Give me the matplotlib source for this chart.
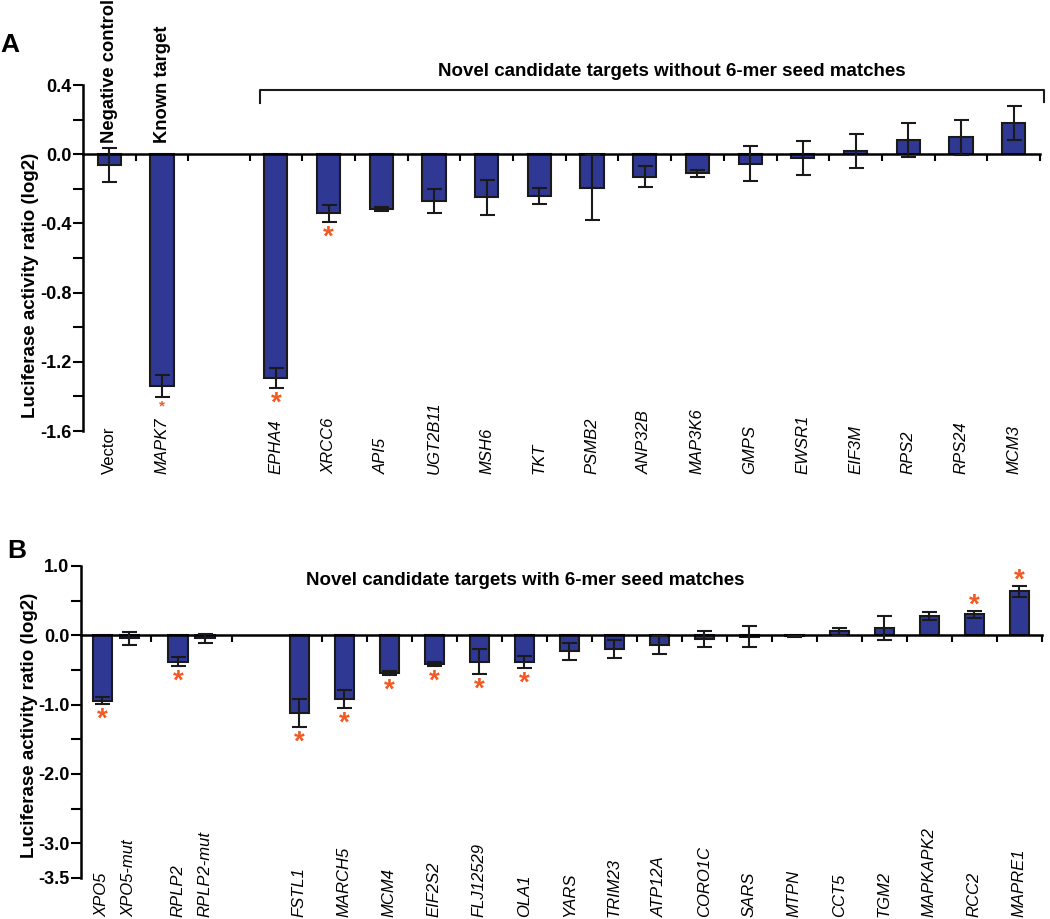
import numpy as np
import matplotlib.pyplot as plt
from matplotlib.ticker import FixedLocator

plt.rcParams['font.family'] = ['Liberation Sans', 'DejaVu Sans']
plt.rcParams['axes.unicode_minus'] = False

# ---- panel A: targets without 6-mer seed matches ----
a_genes = ["Vector", "MAPK7", "EPHA4", "XRCC6", "API5", "UGT2B11", "MSH6", "TKT",
           "PSMB2", "ANP32B", "MAP3K6", "GMPS", "EWSR1", "EIF3M", "RPS2", "RPS24", "MCM3"]
a_values = [-0.063, -1.339, -1.291, -0.342, -0.319, -0.272, -0.249, -0.242,
            -0.193, -0.131, -0.111, -0.054, -0.023, 0.017, 0.081, 0.097, 0.180]
a_errors = [0.099, 0.063, 0.058, 0.050, 0.012, 0.070, 0.100, 0.045,
            0.190, 0.060, 0.020, 0.100, 0.100, 0.098, 0.100, 0.100, 0.100]
a_sig = ["MAPK7", "EPHA4", "XRCC6"]
a_small_star = ["MAPK7"]

# ---- panel B: targets with 6-mer seed matches ----
b_genes = ["XPO5", "XPO5-mut", "RPLP2", "RPLP2-mut", "FSTL1", "MARCH5", "MCM4", "EIF2S2",
           "FLJ12529", "OLA1", "YARS", "TRIM23", "ATP12A", "CORO1C", "SARS", "MTPN",
           "CCT5", "TGM2", "MAPKAPK2", "RCC2", "MAPRE1"]
b_values = [-0.94, -0.045, -0.38, -0.045, -1.12, -0.92, -0.54, -0.41,
            -0.38, -0.38, -0.23, -0.195, -0.14, -0.058, -0.02, -0.015,
            0.058, 0.107, 0.28, 0.306, 0.636]
b_errors = [0.045, 0.10, 0.065, 0.06, 0.20, 0.13, 0.025, 0.03,
            0.18, 0.085, 0.12, 0.125, 0.125, 0.115, 0.15, 0.01,
            0.05, 0.17, 0.06, 0.05, 0.08]
b_sig = ["XPO5", "RPLP2", "FSTL1", "MARCH5", "MCM4", "EIF2S2", "FLJ12529", "OLA1",
         "RCC2", "MAPRE1"]

BAR = "#2f3893"
EDGE = "#1a1a1a"
STAR = "#f15a24"
W, H = 1050, 919


def add_stars(ax, pos, vals, errs, names, sig, small=()):
    for x, v, e, n in zip(pos, vals, errs, names):
        if n not in sig:
            continue
        fs = 11 if n in small else 20
        if v < 0:
            ax.annotate("*", (x, v - e), xytext=(0, -2), textcoords="offset points",
                        ha="center", va="top", fontsize=fs, fontweight="bold",
                        color=STAR, annotation_clip=False)
        else:
            ax.annotate("*", (x, v + e), xytext=(0, -1.5), textcoords="offset points",
                        ha="center", va="baseline", fontsize=fs, fontweight="bold",
                        color=STAR, annotation_clip=False)


def style_axes(ax, boundaries, xmax, ylim, major, minor):
    ax.set_xlim(0, xmax)
    ax.set_ylim(*ylim)
    for s in ["top", "right"]:
        ax.spines[s].set_visible(False)
    ax.spines["bottom"].set_position(("data", 0))
    ax.spines["bottom"].set_linewidth(1.8)
    ax.spines["left"].set_linewidth(1.8)
    ax.set_xticks(boundaries)
    ax.tick_params(axis="x", direction="out", length=5, width=1.5, labelbottom=False)
    ax.yaxis.set_major_locator(FixedLocator(major))
    ax.yaxis.set_minor_locator(FixedLocator(minor))
    ax.set_yticklabels([f"{t:.1f}" for t in major], fontsize=13, fontweight="bold")
    ax.tick_params(axis="y", which="both", direction="out", length=7, width=1.5, pad=1)


def gene_labels(ax, pos, names, y):
    for x, n in zip(pos, names):
        ax.text(x, y, n, transform=ax.get_xaxis_transform(), rotation=90,
                ha="center", va="bottom", fontsize=12,
                style="normal" if n == "Vector" else "italic")


def draw_bars(ax, pos, vals, errs, width):
    ax.bar(pos, vals, width=width, color=BAR, edgecolor=EDGE, linewidth=1.5, zorder=2)
    ax.errorbar(pos, vals, yerr=errs, fmt="none", ecolor=EDGE, elinewidth=1.5,
                capsize=5.4, capthick=1.5, zorder=3)


fig = plt.figure(figsize=(W / 100, H / 100), dpi=100)

# ---------------- panel A ----------------
axA = fig.add_axes([83 / W, 1 - 431 / H, 957 / W, 346 / H])
gap_a = 1.16
n_ctrl = 2
slot_left = np.concatenate([np.arange(n_ctrl),
                            n_ctrl + gap_a + np.arange(len(a_genes) - n_ctrl)])
pos_a = slot_left + 0.5
xmax_a = slot_left[-1] + 1
bound_a = np.concatenate([[1, 2, 2 + gap_a], slot_left[n_ctrl:] + 1])
draw_bars(axA, pos_a, a_values, a_errors, 0.44)
style_axes(axA, bound_a, xmax_a, (-1.6, 0.4),
           [0.4, 0.0, -0.4, -0.8, -1.2, -1.6], [0.2, -0.2, -0.6, -1.0, -1.4])
add_stars(axA, pos_a, a_values, a_errors, a_genes, a_sig, a_small_star)
gene_labels(axA, pos_a, a_genes, -0.124)
axA.set_ylabel("Luciferase activity ratio (log2)", fontsize=13.5, fontweight="bold", va="center")
axA.yaxis.set_label_coords(-0.0545, 0.42)

axA.text(pos_a[0], 0.065, "Negative control", rotation=90, ha="center", va="bottom",
         fontsize=13.2, fontweight="bold", clip_on=False)
axA.text(pos_a[1], 0.065, "Known target", rotation=90, ha="center", va="bottom",
         fontsize=13.2, fontweight="bold", clip_on=False)
bx0 = pos_a[n_ctrl] - 0.3
bx1 = xmax_a + 0.08
axA.plot([bx0, bx0, bx1, bx1], [0.297, 0.373, 0.373, 0.30], color=EDGE, lw=1.5,
         clip_on=False)
axA.text(0.615, 1.0385, "Novel candidate targets without 6-mer seed matches",
         transform=axA.transAxes, ha="center", va="center", fontsize=13.5,
         fontweight="bold")

# ---------------- panel B ----------------
axB = fig.add_axes([80.7 / W, 1 - 878 / H, 961 / W, 312 / H])
pair_edges = np.array([0, 1.56, 3.36])
pair_centers = (pair_edges[:-1] + pair_edges[1:]) / 2
pos_pairs = np.ravel(np.column_stack([pair_centers - 0.3, pair_centers + 0.3]))
main_start = pair_edges[-1] + 1.0
n_main = len(b_genes) - len(pos_pairs)
pos_b = np.concatenate([pos_pairs, main_start + 0.5 + np.arange(n_main)])
xmax_b = main_start + n_main
bound_b = np.concatenate([pair_edges[1:], main_start + 1 + np.arange(n_main)])
draw_bars(axB, pos_b, b_values, b_errors, 0.43)
style_axes(axB, bound_b, xmax_b, (-3.5, 1.0),
           [1.0, 0.0, -1.0, -2.0, -3.0, -3.5], [0.5, -0.5, -1.5, -2.5])
add_stars(axB, pos_b, b_values, b_errors, b_genes, b_sig)
gene_labels(axB, pos_b, b_genes, -0.125)
axB.set_ylabel("Luciferase activity ratio (log2)", fontsize=13.5, fontweight="bold", va="center")
axB.yaxis.set_label_coords(-0.0535, 0.49)
axB.text(0.463, 0.955, "Novel candidate targets with 6-mer seed matches",
         transform=axB.transAxes, ha="center", va="center", fontsize=13.5,
         fontweight="bold")

fig.text(0.0, 1 - 52 / H, "A", fontsize=19, fontweight="bold", ha="left", va="baseline")
fig.text(7 / W, 1 - 558 / H, "B", fontsize=19, fontweight="bold", ha="left", va="baseline")

fig.savefig("out.png", dpi=100)
